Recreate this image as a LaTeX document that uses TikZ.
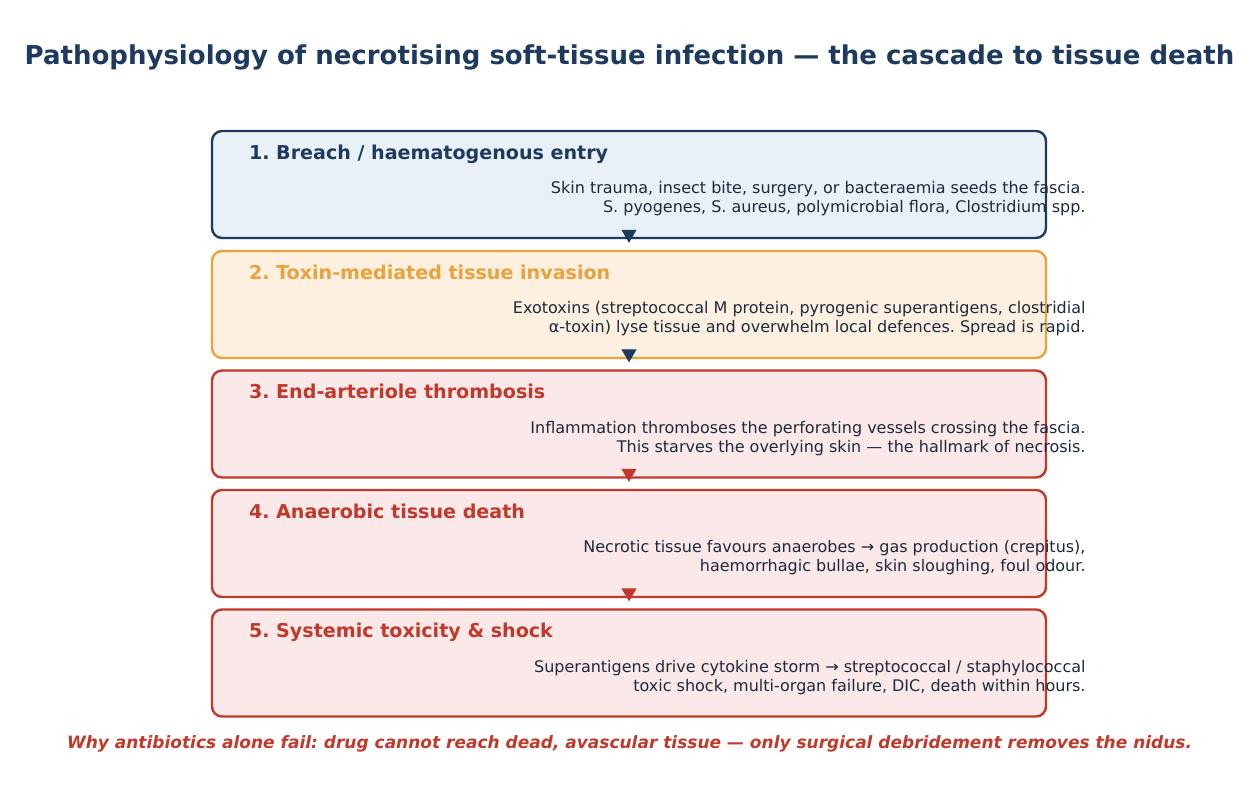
\documentclass[tikz,border=0pt]{standalone}
\usepackage{fontspec}
\setmainfont{DejaVu Sans}
\usetikzlibrary{arrows.meta}
\definecolor{navy}{HTML}{1F3A5F}
\definecolor{bodytxt}{HTML}{1C2B3C}
\definecolor{orng}{HTML}{E8A33C}
\definecolor{redc}{HTML}{C0392B}
\definecolor{fillblue}{HTML}{E8F0F8}
\definecolor{fillorng}{HTML}{FDF0E0}
\definecolor{fillred}{HTML}{FBE8E8}
\frenchspacing
\begin{document}
\begin{tikzpicture}[x=1pt,y=-1pt,
  stagebox/.style={draw, line width=2.4pt, rounded corners=10pt, minimum width=834pt, minimum height=107pt, inner sep=0pt},
  heading/.style={anchor=base west, inner sep=0pt, font=\fontsize{19.1}{22}\selectfont\bfseries},
  bodytext/.style={anchor=east, inner sep=0pt, align=right, text=bodytxt, font=\fontsize{16}{19}\selectfont},
  arr/.style={-{Triangle[length=13pt,width=15pt]}, line width=1pt}
]
\useasboundingbox (0,0) rectangle (1259,793);
\node[font=\fontsize{26}{30}\selectfont\bfseries, text=navy] (title) at (629.5,57) {Pathophysiology of necrotising soft-tissue infection — the cascade to tissue death};

\node[stagebox, draw=navy, fill=fillblue] (b1) at (629,184.5) {};
\node[stagebox, draw=orng, fill=fillorng] (b2) at (629,304.5) {};
\node[stagebox, draw=redc, fill=fillred] (b3) at (629,424) {};
\node[stagebox, draw=redc, fill=fillred] (b4) at (629,543.5) {};
\node[stagebox, draw=redc, fill=fillred] (b5) at (629,663) {};

\node[heading, text=navy] (h1) at ([xshift=38pt,yshift=-29.5pt]b1.north west) {1. Breach / haematogenous entry};
\node[heading, text=orng] (h2) at ([xshift=38pt,yshift=-29.5pt]b2.north west) {2. Toxin-mediated tissue invasion};
\node[heading, text=redc] (h3) at ([xshift=38pt,yshift=-29.5pt]b3.north west) {3. End-arteriole thrombosis};
\node[heading, text=redc] (h4) at ([xshift=38pt,yshift=-29.5pt]b4.north west) {4. Anaerobic tissue death};
\node[heading, text=redc] (h5) at ([xshift=38pt,yshift=-29.5pt]b5.north west) {5. Systemic toxicity \& shock};

\node[bodytext] (t1) at ([xshift=38.5pt,yshift=-14.5pt]b1.east) {Skin trauma, insect bite, surgery, or bacteraemia seeds the fascia.\\S. pyogenes, S. aureus, polymicrobial flora, Clostridium spp.};
\node[bodytext] (t2) at ([xshift=38.5pt,yshift=-14.5pt]b2.east) {Exotoxins (streptococcal M protein, pyrogenic superantigens, clostridial\\α-toxin) lyse tissue and overwhelm local defences. Spread is rapid.};
\node[bodytext] (t3) at ([xshift=38.5pt,yshift=-14.5pt]b3.east) {Inflammation thromboses the perforating vessels crossing the fascia.\\This starves the overlying skin — the hallmark of necrosis.};
\node[bodytext] (t4) at ([xshift=38.5pt,yshift=-14.5pt]b4.east) {Necrotic tissue favours anaerobes → gas production (crepitus),\\haemorrhagic bullae, skin sloughing, foul odour.};
\node[bodytext] (t5) at ([xshift=38.5pt,yshift=-14.5pt]b5.east) {Superantigens drive cytokine storm → streptococcal / staphylococcal\\toxic shock, multi-organ failure, DIC, death within hours.};

\draw[arr, navy] ([yshift=8pt]b1.south) -- ([yshift=7pt]b2.north);
\draw[arr, navy] ([yshift=8pt]b2.south) -- ([yshift=7pt]b3.north);
\draw[arr, redc] ([yshift=8pt]b3.south) -- ([yshift=7pt]b4.north);
\draw[arr, redc] ([yshift=8pt]b4.south) -- ([yshift=7pt]b5.north);

\node[font=\fontsize{17}{20}\selectfont\bfseries\itshape, text=redc] (foot) at (629.5,744) {Why antibiotics alone fail: drug cannot reach dead, avascular tissue — only surgical debridement removes the nidus.};
\end{tikzpicture}
\end{document}
